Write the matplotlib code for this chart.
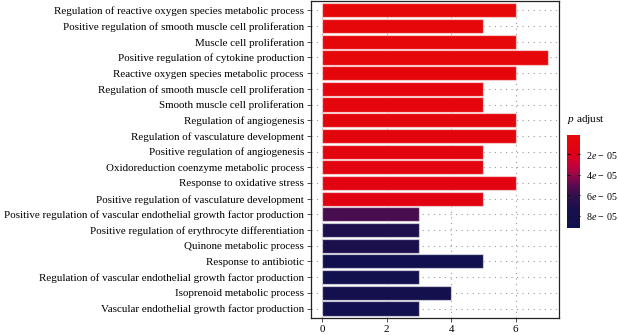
import numpy as np
import matplotlib
matplotlib.use('Agg')
import matplotlib.pyplot as plt
from matplotlib.colors import LinearSegmentedColormap, Normalize
from matplotlib.cm import ScalarMappable

plt.rcParams['font.family'] = ['Liberation Serif', 'DejaVu Serif']
plt.rcParams['mathtext.fontset'] = 'custom'
plt.rcParams['mathtext.it'] = 'Liberation Serif:italic'
plt.rcParams['mathtext.rm'] = 'Liberation Serif'

# GO terms, top to bottom
terms = [
    'Regulation of reactive oxygen species metabolic process',
    'Positive regulation of smooth muscle cell proliferation',
    'Muscle cell proliferation',
    'Positive regulation of cytokine production',
    'Reactive oxygen species metabolic process',
    'Regulation of smooth muscle cell proliferation',
    'Smooth muscle cell proliferation',
    'Regulation of angiogenesis',
    'Regulation of vasculature development',
    'Positive regulation of angiogenesis',
    'Oxidoreduction coenzyme metabolic process',
    'Response to oxidative stress',
    'Positive regulation of vasculature development',
    'Positive regulation of vascular endothelial growth factor production',
    'Positive regulation of erythrocyte differentiation',
    'Quinone metabolic process',
    'Response to antibiotic',
    'Regulation of vascular endothelial growth factor production',
    'Isoprenoid metabolic process',
    'Vascular endothelial growth factor production',
]
counts = [6, 5, 6, 7, 6, 5, 5, 6, 6, 5, 5, 6, 5, 3, 3, 3, 5, 3, 4, 3]
p_adjust = [1.0e-6, 3.0e-6, 3.0e-6, 4.0e-6, 5.0e-6, 6.0e-6, 6.0e-6, 7.0e-6,
            7.0e-6, 9.0e-6, 1.0e-5, 1.1e-5, 1.3e-5, 5.5e-5, 7.0e-5, 7.2e-5,
            9.2e-5, 8.6e-5, 8.2e-5, 8.8e-5]
cbar_ticks = [2e-5, 4e-5, 6e-5, 8e-5]
cbar_labels = [r'2$\it{e}$ − 05', r'4$\it{e}$ − 05', r'6$\it{e}$ − 05', r'8$\it{e}$ − 05']

cmap = LinearSegmentedColormap.from_list('padj', [
    (0.00, '#E60808'), (0.20, '#DE0016'), (0.32, '#C8003A'),
    (0.43, '#980848'), (0.54, '#5A0A50'), (0.66, '#2E104C'),
    (0.80, '#18104C'), (1.00, '#10104F')])
norm = Normalize(vmin=min(p_adjust), vmax=max(p_adjust))

fig = plt.figure(figsize=(6.18, 3.35), dpi=100)
ax = fig.add_axes([0.503, 0.051, 0.402, 0.946])

n = len(terms)
ypos = np.arange(n)[::-1] + 1
ax.barh(ypos, counts, height=0.9, color=cmap(norm(p_adjust)),
        edgecolor=(1, 1, 1, 0.55), linewidth=0.9, zorder=2)

ax.set_xlim(-0.35, 7.35)
ax.set_ylim(0.4, n + 0.6)
ax.set_xticks([0, 2, 4, 6])
ax.set_yticks(ypos)
ax.set_yticklabels(terms)
ax.tick_params(axis='both', labelsize=7.9, length=3, width=0.6, color='#333333', pad=2)
ax.grid(True, color='#9a9a9a', linestyle=(0, (1, 4)), linewidth=0.8, zorder=0)
ax.set_axisbelow(True)
for s in ax.spines.values():
    s.set_linewidth(0.9)
    s.set_color('#222222')

cax = fig.add_axes([0.9175, 0.319, 0.021, 0.278])
sm = ScalarMappable(norm=norm, cmap=cmap)
cb = fig.colorbar(sm, cax=cax)
cb.outline.set_visible(False)
cb.set_ticks(cbar_ticks)
cb.set_ticklabels(cbar_labels)
cax.invert_yaxis()
cax.tick_params(labelsize=7.2, length=2.5, width=0.8, direction='in', color='#111111',
                left=True, right=True, pad=4)
fig.text(0.9175, 0.625, r'$\it{p}$ adjust', fontsize=8.1, ha='left', va='bottom')

fig.savefig('out.png', dpi=100)
